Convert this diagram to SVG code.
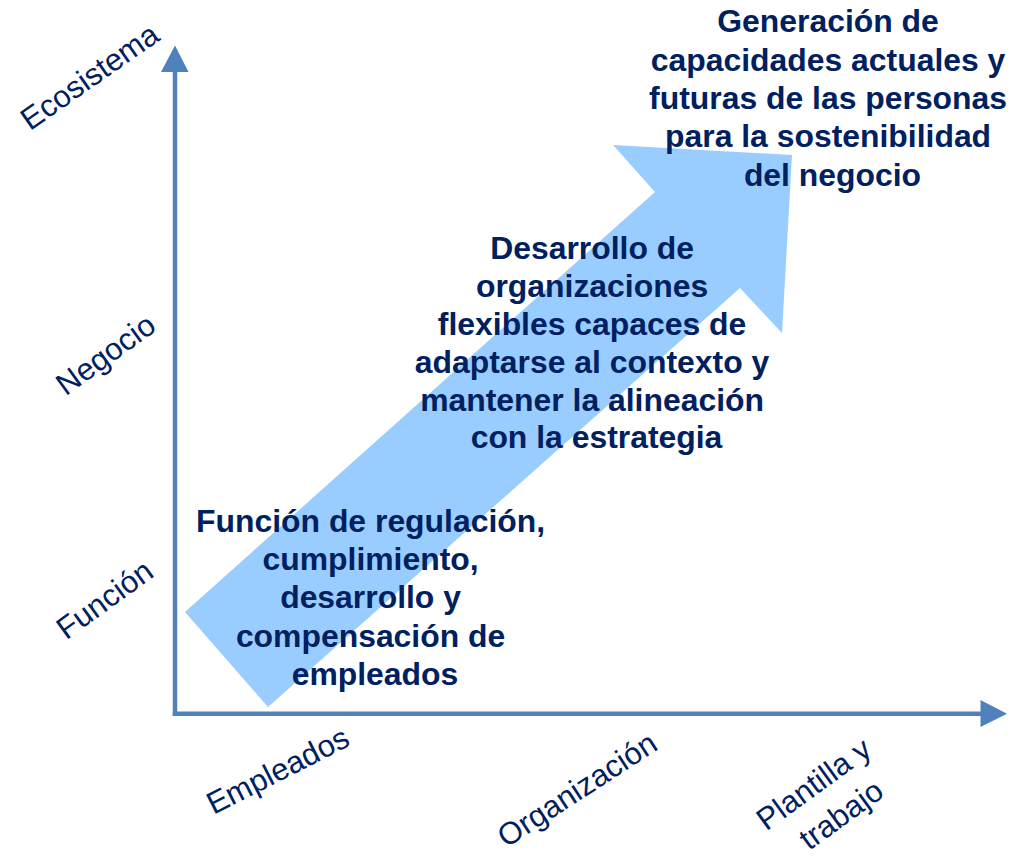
<svg xmlns="http://www.w3.org/2000/svg" width="1021" height="856" viewBox="0 0 1021 856">
  <style>
    .b { font-family: "Liberation Sans", Arial, sans-serif; font-weight: bold; font-size: 31.9px; fill: #002060; text-anchor: middle; }
    .l { font-family: "Liberation Sans", Arial, sans-serif; font-size: 31px; fill: #002060; text-anchor: middle; }
    .ax { stroke: #4F81BD; stroke-width: 4.5; fill: none; }
    .axh { fill: #4F81BD; }
  </style>
  <rect width="1021" height="856" fill="#FFFFFF"/>
  <g id="big-arrow">
    <polygon points="185,612 655,192 613,145 792,155 782,333 740,288 268,707" fill="#99CCFF"/>
  </g>
  <g id="connectors">
    <line class="ax" x1="175" y1="716" x2="175" y2="70"/>
    <polygon class="axh" points="161,72 175,45.5 188.5,72"/>
    <line class="ax" x1="172.8" y1="713.8" x2="982" y2="713.8"/>
    <polygon class="axh" points="980.5,700 1007,713.8 980.5,727"/>
  </g>
  <g id="label-ecosistema">
    <text class="l" transform="translate(90,77) rotate(-35)" x="0" y="10">Ecosistema</text>
  </g>
  <g id="label-negocio">
    <text class="l" transform="translate(106,355) rotate(-36)" x="0" y="10">Negocio</text>
  </g>
  <g id="label-funcion">
    <text class="l" transform="translate(105,600) rotate(-36)" x="0" y="10">Función</text>
  </g>
  <g id="label-empleados">
    <text class="l" transform="translate(278,771) rotate(-27)" x="0" y="10">Empleados</text>
  </g>
  <g id="label-organizacion">
    <text class="l" transform="translate(577.5,790) rotate(-33)" x="0" y="10">Organización</text>
  </g>
  <g id="label-plantilla">
    <text class="l" transform="translate(829.5,798.5) rotate(-36)">
      <tspan x="0" y="-10.5">Plantilla y</tspan>
      <tspan x="0" y="30.5">trabajo</tspan>
    </text>
  </g>
  <g id="node-generacion">
    <text class="b">
      <tspan x="832.5" y="32.3">Generación de</tspan>
      <tspan x="832.5" y="70.6">capacidades actuales y</tspan>
      <tspan x="832.5" y="108.9">futuras de las personas</tspan>
      <tspan x="832.5" y="147.2">para la sostenibilidad</tspan>
      <tspan x="832.5" y="185.5">del negocio</tspan>
    </text>
  </g>
  <g id="node-desarrollo">
    <text class="b">
      <tspan x="596.5" y="259.3">Desarrollo de</tspan>
      <tspan x="596.5" y="297.1">organizaciones</tspan>
      <tspan x="596.5" y="334.9">flexibles capaces de</tspan>
      <tspan x="596.5" y="372.7">adaptarse al contexto y</tspan>
      <tspan x="596.5" y="410.5">mantener la alineación</tspan>
      <tspan x="596.5" y="448.3">con la estrategia</tspan>
    </text>
  </g>
  <g id="node-funcion">
    <text class="b">
      <tspan x="375" y="531.7">Función de regulación,</tspan>
      <tspan x="375" y="570">cumplimiento,</tspan>
      <tspan x="375" y="608.3">desarrollo y</tspan>
      <tspan x="375" y="646.6">compensación de</tspan>
      <tspan x="375" y="685">empleados</tspan>
    </text>
  </g>
</svg>
